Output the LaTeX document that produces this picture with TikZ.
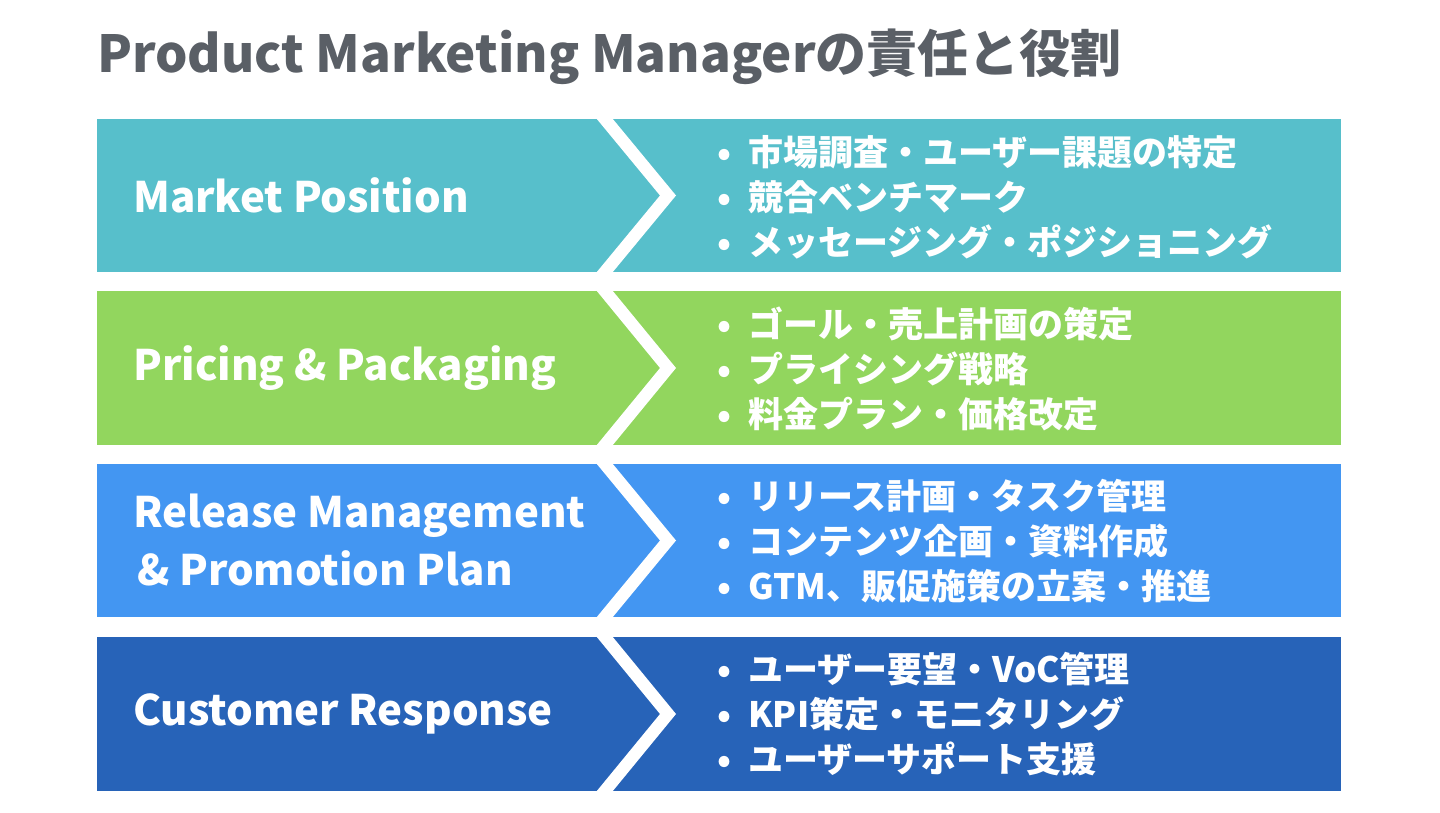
\documentclass[tikz,border=0pt]{standalone}
\usepackage{fontspec}
\setmainfont{Noto Sans CJK JP}
\definecolor{titlegray}{RGB}{90,95,102}
\definecolor{rowteal}{RGB}{87,191,203}
\definecolor{rowgreen}{RGB}{146,214,94}
\definecolor{rowblue}{RGB}{67,150,242}
\definecolor{rownavy}{RGB}{39,99,184}
\tikzset{
  band/.style={draw=none},
  chevron/.style={fill=white, draw=none},
  rowlabel/.style={anchor=west, text=white, align=left, inner sep=0pt,
    font=\bfseries\fontsize{42}{58}\selectfont},
  duties/.style={anchor=west, text=white, align=left, inner sep=0pt,
    font=\bfseries\fontsize{35}{45}\selectfont}
}
\newcommand{\pt}{\textbullet\hspace{17pt}}
\begin{document}
\begin{tikzpicture}[x=1pt,y=-1pt]
\useasboundingbox (0,0) rectangle (1440,813);
% title
\node (title) [anchor=west, inner sep=0pt, text=titlegray, font=\bfseries\fontsize{51}{60}\selectfont] at (97,57) {Product Marketing Managerの責任と役割};
% bands
\fill [band, rowteal]  (97,119) rectangle (1341,272);
\fill [band, rowgreen] (97,291) rectangle (1341,445);
\fill [band, rowblue]  (97,464) rectangle (1341,617);
\fill [band, rownavy]  (97,637) rectangle (1341,791);
% chevrons
\fill [chevron] (596,118) -- (660,195.5) -- (596,273) -- (612,273) -- (676,195.5) -- (612,118) -- cycle;
\fill [chevron] (596,290) -- (660,368) -- (596,446) -- (612,446) -- (676,368) -- (612,290) -- cycle;
\fill [chevron] (596,463) -- (660,540.5) -- (596,618) -- (612,618) -- (676,540.5) -- (612,463) -- cycle;
\fill [chevron] (596,636) -- (660,714) -- (596,792) -- (612,792) -- (676,714) -- (612,636) -- cycle;
% left labels
\node (market) [rowlabel] at (133,195.5) {Market Position};
\node (pricing) [rowlabel] at (133,368) {Pricing \& Packaging};
\node (release) [rowlabel] at (133,540.5) {Release Management\\\hspace{4pt}\& Promotion Plan};
\node (customer) [rowlabel] at (133,714) {Customer Response};
% right lists
\node (marketlist) [duties] at (717,197) {\pt 市場調査・ユーザー課題の特定\\\pt 競合ベンチマーク\\\pt メッセージング・ポジショニング};
\node (pricinglist) [duties] at (717,369) {\pt ゴール・売上計画の策定\\\pt プライシング戦略\\\pt 料金プラン・価格改定};
\node (releaselist) [duties] at (717,541) {\pt リリース計画・タスク管理\\\pt コンテンツ企画・資料作成\\\pt GTM、販促施策の立案・推進};
\node (customerlist) [duties] at (717,714) {\pt ユーザー要望・VoC管理\\\pt KPI策定・モニタリング\\\pt ユーザーサポート支援};
\end{tikzpicture}
\end{document}
